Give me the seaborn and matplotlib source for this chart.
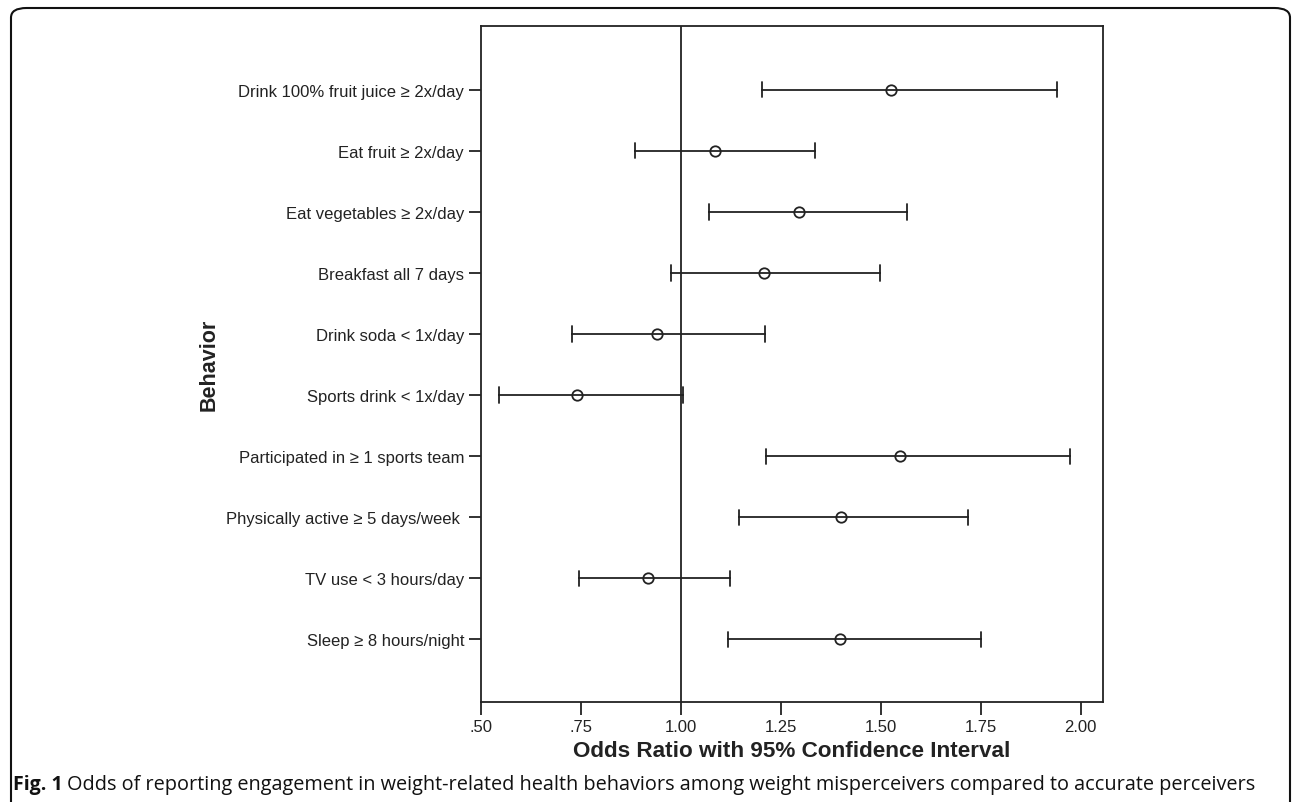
import matplotlib
matplotlib.use("Agg")
import matplotlib.pyplot as plt
from matplotlib.patches import FancyBboxPatch
import numpy as np
import pandas as pd
import seaborn as sns

behaviors = [
    "Drink 100% fruit juice \u2265 2x/day",
    "Eat fruit \u2265 2x/day",
    "Eat vegetables \u2265 2x/day",
    "Breakfast all 7 days",
    "Drink soda < 1x/day",
    "Sports drink < 1x/day",
    "Participated in \u2265 1 sports team",
    "Physically active \u2265 5 days/week ",
    "TV use < 3 hours/day",
    "Sleep \u2265 8 hours/night",
]
odds_ratio = [1.527, 1.086, 1.295, 1.208, 0.940, 0.741, 1.548, 1.402, 0.917, 1.398]
ci_lower = [1.203, 0.885, 1.071, 0.976, 0.728, 0.546, 1.213, 1.146, 0.746, 1.117]
ci_upper = [1.940, 1.336, 1.566, 1.498, 1.211, 1.006, 1.974, 1.718, 1.123, 1.751]
x_ticks = [0.50, 0.75, 1.00, 1.25, 1.50, 1.75, 2.00]
x_tick_labels = [".50", ".75", "1.00", "1.25", "1.50", "1.75", "2.00"]

# long table: median of (lo, or, hi) is the OR, full percentile range is the CI
df = pd.DataFrame({
    "behavior": np.repeat(behaviors, 3),
    "value": np.column_stack([ci_lower, odds_ratio, ci_upper]).ravel(),
})

sns.set_style("ticks")
plt.rcParams["font.family"] = ["Liberation Sans", "DejaVu Sans"]
ink = "#222222"

fig = plt.figure(figsize=(12.93, 8.03), dpi=100)
ax = fig.add_axes([0.3718, 0.1242, 0.4813, 0.8426])

sns.pointplot(
    data=df, x="value", y="behavior", order=behaviors,
    estimator="median", errorbar=("pi", 100),
    linestyles="none", markers="o", color=ink, capsize=0.25,
    markerfacecolor="white", markeredgecolor=ink, markersize=7.5, markeredgewidth=1.3,
    err_kws={"linewidth": 1.3, "color": ink},
    ax=ax,
)
ax.axvline(1.0, color=ink, linewidth=1.3, zorder=0)

ax.set_xlim(0.5, 2.056)
ax.set_ylim(10.03, -1.05)
ax.set_xticks(x_ticks)
ax.set_xticklabels(x_tick_labels)
ax.tick_params(axis="both", direction="out", length=9, width=1.3, color=ink,
               labelsize=12, labelcolor=ink, pad=3)
for s in ax.spines.values():
    s.set_visible(True)
    s.set_linewidth(1.3)
    s.set_color(ink)

ax.set_xlabel("Odds Ratio with 95% Confidence Interval", fontsize=16.2,
              fontweight="bold", color=ink)
ax.xaxis.set_label_coords(0.5, -0.079)
ax.xaxis.label.set_va("baseline")
ax.set_ylabel("Behavior", fontsize=15.5, fontweight="bold", color=ink)
ax.yaxis.set_label_coords(-0.42, 0.5)

# rounded frame around the figure panel
frame = FancyBboxPatch((11 / 1293, -0.05), 1290 / 1293 - 11 / 1293, 1.05 - 9 / 803,
                       boxstyle="round,pad=0,rounding_size=0.012",
                       transform=fig.transFigure, fill=False,
                       edgecolor="#111111", linewidth=1.5)
fig.patches.append(frame)

cap_y = 1 - 790 / 803
fig.text(13 / 1293, cap_y, "Fig. 1", fontsize=14, fontweight="bold",
         color="#111111", va="baseline", family=["Open Sans", "DejaVu Sans"])
fig.text(67 / 1293, cap_y,
         "Odds of reporting engagement in weight-related health behaviors among "
         "weight misperceivers compared to accurate perceivers",
         fontsize=14.3, color="#111111", va="baseline",
         family=["Open Sans", "DejaVu Sans"])

fig.savefig("out.png", dpi=100)
